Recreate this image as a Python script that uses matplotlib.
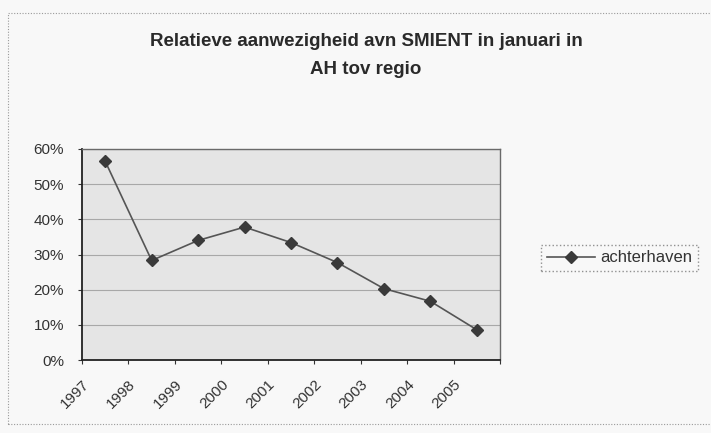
import numpy as np
import matplotlib
matplotlib.use('Agg')
import matplotlib.pyplot as plt
from matplotlib.patches import Rectangle

# data
years = ['1997', '1998', '1999', '2000', '2001', '2002', '2003', '2004', '2005']
achterhaven = [56.5, 28.3, 34.0, 37.8, 33.4, 27.7, 20.3, 16.7, 8.6]  # percent
y_ticks = [0, 10, 20, 30, 40, 50, 60]

plt.rcParams['font.family'] = ['Liberation Sans', 'DejaVu Sans']

fig = plt.figure(figsize=(7.11, 4.33), dpi=100)
fig.patch.set_facecolor('#f8f8f8')

# dotted chart-area border (runs off the right edge like in the scan)
fig.patches.append(Rectangle((8 / 711, 0.02), 1.1, 1 - 13 / 433 - 0.02,
                             transform=fig.transFigure, fill=False,
                             edgecolor='#9a9a9a', linestyle=(0, (1, 1.5)),
                             linewidth=0.8))

ax = fig.add_axes([82 / 711, 1 - 360 / 433, (500 - 82) / 711, (360 - 149) / 433])
ax.set_facecolor('#e5e5e5')

x = np.arange(len(years))
ax.plot(x, achterhaven, color='#555555', linewidth=1.2, marker='D',
        markersize=6, markerfacecolor='#3a3a3a', markeredgecolor='#3a3a3a',
        label='achterhaven', zorder=3)

ax.set_xlim(-0.5, len(years) - 0.5)
ax.set_ylim(0, 60)
ax.set_yticks(y_ticks)
ax.set_yticklabels([f'{v}%' for v in y_ticks], fontsize=11, color='#333333')
ax.yaxis.grid(True, color='#a8a8a8', linewidth=0.8)
ax.set_axisbelow(True)

# tick marks between categories, labels rotated near each category
ax.set_xticks(np.arange(len(years) + 1) - 0.5)
ax.set_xticklabels([])
for i, yr in enumerate(years):
    ax.text(i - 0.5, -0.08, yr, transform=ax.get_xaxis_transform(),
            rotation=45, ha='right', va='top', rotation_mode='anchor',
            fontsize=11, color='#333333')

ax.tick_params(axis='both', length=3, color='#333333', direction='out')
ax.tick_params(axis='y', pad=10)
for side in ['left', 'bottom']:
    ax.spines[side].set_color('#222222')
    ax.spines[side].set_linewidth(1.3)
for side in ['top', 'right']:
    ax.spines[side].set_color('#6a6a6a')
    ax.spines[side].set_linewidth(1.0)

fig.text(366 / 711, 1 - 42 / 433, 'Relatieve aanwezigheid avn SMIENT in januari in',
         ha='center', va='center', fontsize=13.5, fontweight='bold', color='#2a2a2a')
fig.text(366 / 711, 1 - 70 / 433, 'AH tov regio',
         ha='center', va='center', fontsize=13.5, fontweight='bold', color='#2a2a2a')

leg = fig.legend(loc='center left', bbox_to_anchor=(541 / 711, 1 - 258 / 433),
                 fontsize=12, frameon=True, fancybox=False, handlelength=2.9,
                 borderpad=0.35, handletextpad=0.3, borderaxespad=0)
leg.get_frame().set_edgecolor('#777777')
leg.get_frame().set_linestyle(':')
leg.get_frame().set_facecolor('#f8f8f8')
for t in leg.get_texts():
    t.set_color('#333333')

fig.savefig('out.png', dpi=100, facecolor=fig.get_facecolor())
